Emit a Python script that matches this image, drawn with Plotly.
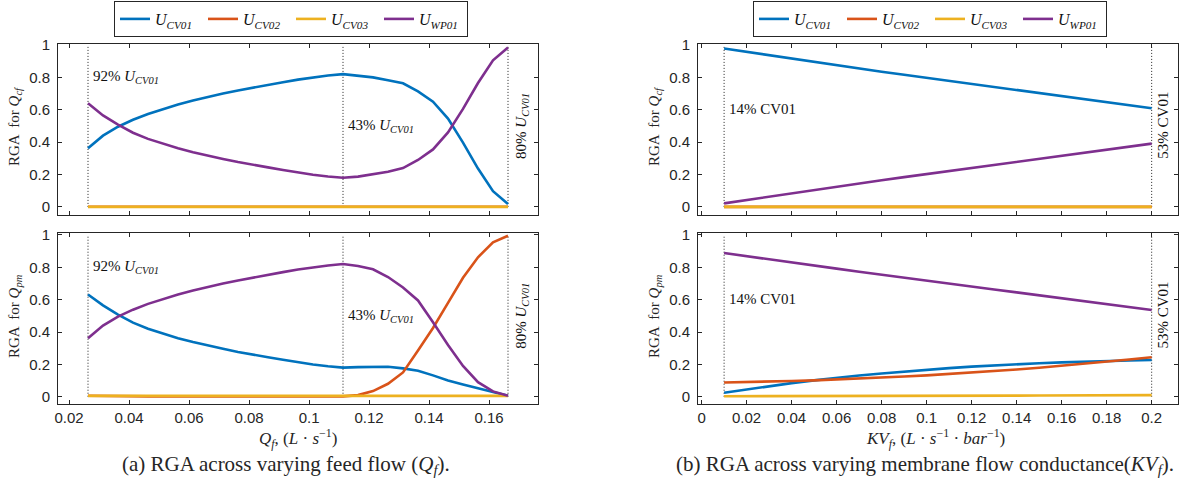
import plotly.graph_objects as go

# ---------------- data ----------------
qf = [0.0263, 0.0313, 0.0363, 0.0413, 0.0463, 0.0513, 0.0563, 0.0613, 0.0663, 0.0713,
      0.0763, 0.0813, 0.0863, 0.0913, 0.0963, 0.1013, 0.1063, 0.1113, 0.1163, 0.1213,
      0.1263, 0.1313, 0.1363, 0.1413, 0.1463, 0.1513, 0.1563, 0.1613, 0.1663]

a_cf_cv01 = [0.362, 0.440, 0.495, 0.538, 0.574, 0.605, 0.632, 0.657, 0.680, 0.700,
             0.719, 0.737, 0.753, 0.770, 0.786, 0.800, 0.811, 0.820, 0.812, 0.800,
             0.782, 0.763, 0.713, 0.650, 0.545, 0.397, 0.237, 0.097, 0.018]
a_cf_cv02 = [0.001] * 29
a_cf_cv03 = [0.0] * 29
a_cf_wp01 = [0.640, 0.565, 0.508, 0.458, 0.420, 0.390, 0.362, 0.338, 0.316, 0.296,
             0.277, 0.259, 0.244, 0.228, 0.213, 0.199, 0.188, 0.180, 0.187, 0.200,
             0.217, 0.240, 0.290, 0.355, 0.460, 0.605, 0.765, 0.905, 0.985]

a_pm_cv01 = [0.632, 0.565, 0.508, 0.458, 0.420, 0.390, 0.362, 0.338, 0.316, 0.296,
             0.277, 0.259, 0.244, 0.228, 0.213, 0.199, 0.188, 0.180, 0.183, 0.186,
             0.185, 0.175, 0.160, 0.132, 0.100, 0.075, 0.052, 0.028, 0.006]
a_pm_cv02 = [0.006, 0.004, 0.003, 0.002, 0.002, 0.002, 0.002, 0.002, 0.002, 0.002,
             0.002, 0.002, 0.002, 0.002, 0.002, 0.002, 0.002, 0.002, 0.010, 0.035,
             0.080, 0.150, 0.285, 0.425, 0.580, 0.735, 0.862, 0.955, 0.995]
a_pm_cv03 = [0.005] * 29
a_pm_wp01 = [0.362, 0.440, 0.495, 0.538, 0.574, 0.605, 0.632, 0.657, 0.680, 0.700,
             0.719, 0.737, 0.753, 0.770, 0.786, 0.800, 0.811, 0.820, 0.808, 0.788,
             0.740, 0.675, 0.595, 0.460, 0.320, 0.190, 0.090, 0.033, 0.006]

kv = [0.01, 0.02, 0.03, 0.04, 0.05, 0.06, 0.07, 0.08, 0.09, 0.10,
      0.11, 0.12, 0.13, 0.14, 0.15, 0.16, 0.17, 0.18, 0.19, 0.20]

b_cf_cv01 = [0.978, 0.957, 0.936, 0.915, 0.895, 0.875, 0.855, 0.835, 0.816, 0.797,
             0.778, 0.759, 0.740, 0.721, 0.702, 0.683, 0.664, 0.646, 0.627, 0.609]
b_cf_cv02 = [0.0] * 20
b_cf_cv03 = [0.0] * 20
b_cf_wp01 = [0.022, 0.043, 0.064, 0.085, 0.105, 0.125, 0.145, 0.165, 0.184, 0.203,
             0.222, 0.241, 0.260, 0.279, 0.298, 0.317, 0.336, 0.354, 0.373, 0.391]

b_pm_cv01 = [0.025, 0.046, 0.066, 0.084, 0.101, 0.117, 0.131, 0.144, 0.156, 0.167,
             0.177, 0.186, 0.194, 0.201, 0.207, 0.212, 0.217, 0.221, 0.224, 0.227]
b_pm_cv02 = [0.088, 0.090, 0.093, 0.097, 0.101, 0.106, 0.112, 0.118, 0.125, 0.132,
             0.140, 0.149, 0.158, 0.168, 0.179, 0.191, 0.203, 0.216, 0.230, 0.244]
b_pm_cv03 = [0.003, 0.003, 0.004, 0.004, 0.004, 0.005, 0.005, 0.005, 0.006, 0.006,
             0.006, 0.007, 0.007, 0.007, 0.008, 0.008, 0.008, 0.009, 0.009, 0.010]
b_pm_wp01 = [0.888, 0.868, 0.849, 0.830, 0.811, 0.792, 0.773, 0.754, 0.736, 0.717,
             0.699, 0.681, 0.663, 0.645, 0.627, 0.609, 0.590, 0.572, 0.554, 0.536]

series_names = ["<i>U<sub>CV01</sub></i>", "<i>U<sub>CV02</sub></i>",
                "<i>U<sub>CV03</sub></i>", "<i>U<sub>WP01</sub></i>"]
colors = ["#0072BD", "#D95319", "#EDB120", "#7E2F8E"]

y_ticks = [0, 0.2, 0.4, 0.6, 0.8, 1]
y_ticktext = ["0", "0.2", "0.4", "0.6", "0.8", "1"]
qf_ticks = [0.02, 0.04, 0.06, 0.08, 0.1, 0.12, 0.14, 0.16]
qf_ticktext = ["0.02", "0.04", "0.06", "0.08", "0.1", "0.12", "0.14", "0.16"]
kv_ticks = [0, 0.02, 0.04, 0.06, 0.08, 0.1, 0.12, 0.14, 0.16, 0.18, 0.2]
kv_ticktext = ["0", "0.02", "0.04", "0.06", "0.08", "0.1", "0.12", "0.14", "0.16", "0.18", "0.2"]

SERIF = "Liberation Serif, Times New Roman, serif"
SANS = "Liberation Sans, Arial, sans-serif"
AX = "#262626"

fig = go.Figure()

panels = [
    ("x", "y", qf, [a_cf_cv01, a_cf_cv02, a_cf_cv03, a_cf_wp01], "legend", True),
    ("x2", "y2", qf, [a_pm_cv01, a_pm_cv02, a_pm_cv03, a_pm_wp01], "legend", False),
    ("x3", "y3", kv, [b_cf_cv01, b_cf_cv02, b_cf_cv03, b_cf_wp01], "legend2", True),
    ("x4", "y4", kv, [b_pm_cv01, b_pm_cv02, b_pm_cv03, b_pm_wp01], "legend2", False),
]
for xa, ya, xs, ys_list, leg, show in panels:
    for name, col, ys in zip(series_names, colors, ys_list):
        fig.add_trace(go.Scatter(x=xs, y=ys, mode="lines", name=name,
                                 line=dict(color=col, width=2.6),
                                 xaxis=xa, yaxis=ya, legend=leg, showlegend=show,
                                 hoverinfo="skip"))

# dotted reference lines
vlines = [("x", "y", [qf[0], qf[17], qf[-1]]), ("x2", "y2", [qf[0], qf[17], qf[-1]]),
          ("x3", "y3", [kv[0], kv[-1]]), ("x4", "y4", [kv[0], kv[-1]])]
for xa, ya, xs in vlines:
    for xv in xs:
        fig.add_shape(type="line", xref=xa, yref=ya, x0=xv, x1=xv, y0=0, y1=1,
                      line=dict(color="#222222", width=1, dash="1px,2px"), layer="below")

# annotations in plots
ann = []
def txt(xa, ya, x, y, text, angle=0, xanchor="left", xshift=0):
    ann.append(dict(xref=xa, yref=ya, x=x, y=y, text=text, showarrow=False,
                    textangle=angle, xanchor=xanchor, yanchor="middle", xshift=xshift,
                    font=dict(family=SERIF, size=15, color="#111111")))

for xa, ya in [("x", "y"), ("x2", "y2")]:
    txt(xa, ya, qf[0], 0.80, "92% <i>U<sub>CV01</sub></i>", xshift=3)
    txt(xa, ya, qf[17], 0.50, "43% <i>U<sub>CV01</sub></i>", xshift=3)
    txt(xa, ya, qf[-1], 0.50, "80% <i>U<sub>CV01</sub></i>", angle=-90, xanchor="left", xshift=3)
for xa, ya in [("x3", "y3"), ("x4", "y4")]:
    txt(xa, ya, kv[0], 0.605, "14% CV01", xshift=3)
    txt(xa, ya, kv[-1], 0.506, "53% CV01", angle=-90, xanchor="left", xshift=1)

# axis titles & captions
W, H = 1187, 501
def paper(px, py, text, size, angle=0):
    ann.append(dict(xref="paper", yref="paper", x=px / W, y=1 - py / H, text=text,
                    showarrow=False, textangle=angle, xanchor="center", yanchor="middle",
                    font=dict(family=SERIF, size=size, color="#262626")))

paper(15, 126, "RGA  for <i>Q<sub>cf</sub></i>", 15, -90)
paper(15, 316, "RGA  for <i>Q<sub>pm</sub></i>", 15, -90)
paper(655, 126, "RGA  for <i>Q<sub>cf</sub></i>", 15, -90)
paper(655, 316, "RGA  for <i>Q<sub>pm</sub></i>", 15, -90)
paper(298, 438, "<i>Q<sub>f</sub></i>, (<i>L</i> · <i>s</i><sup>−1</sup>)", 17)
paper(935, 438, "<i>KV<sub>f</sub></i>, (<i>L</i> · <i>s</i><sup>−1</sup> · <i>bar</i><sup>−1</sup>)", 17)
paper(286, 465, "(a) RGA across varying feed flow (<i>Q<sub>f</sub></i>).", 21)
paper(925, 465, "(b) RGA across varying membrane flow conductance(<i>KV<sub>f</sub></i>).", 21)

def xax(domain, rng, tv, tt, labels, anchor):
    return dict(domain=domain, range=rng, tickvals=tv, ticktext=tt, showticklabels=labels,
                ticks="inside", ticklen=4, tickcolor=AX, tickwidth=1, showline=True,
                linecolor=AX, linewidth=1, mirror="ticks", showgrid=False, zeroline=False,
                anchor=anchor, automargin=False,
                tickfont=dict(family=SANS, size=15, color=AX))

def yax(domain, rng, anchor):
    return dict(domain=domain, range=rng, tickvals=y_ticks, ticktext=y_ticktext,
                ticks="inside", ticklen=4, tickcolor=AX, tickwidth=1, showline=True,
                linecolor=AX, linewidth=1, mirror="ticks", showgrid=False, zeroline=False,
                anchor=anchor, automargin=False,
                tickfont=dict(family=SANS, size=15, color=AX), ticklabelstandoff=4)

dl = [58 / W, 538 / W]
dr = [698 / W, 1178 / W]
dt = [1 - 215 / H, 1 - 44 / H]
db = [1 - 404 / H, 1 - 233 / H]
rq = [0.0163, 0.1763]
rk = [-0.0016, 0.2117]
ryt = [-0.05, 1.006]
ryb = [-0.045, 1.012]

legend_common = dict(orientation="h", xanchor="center", yanchor="middle",
                     bordercolor="#262626", borderwidth=1, bgcolor="white",
                     font=dict(family=SERIF, size=16, color="#111111"),
                     entrywidth=43, entrywidthmode="pixels", itemwidth=30,
                     tracegroupgap=0)

fig.update_layout(
    template="none",
    width=W, height=H, margin=dict(l=0, r=0, t=0, b=0, autoexpand=False),
    paper_bgcolor="white", plot_bgcolor="white",
    xaxis=xax(dl, rq, qf_ticks, qf_ticktext, False, "y"),
    xaxis2=xax(dl, rq, qf_ticks, qf_ticktext, True, "y2"),
    xaxis3=xax(dr, rk, kv_ticks, kv_ticktext, False, "y3"),
    xaxis4=xax(dr, rk, kv_ticks, kv_ticktext, True, "y4"),
    yaxis=yax(dt, ryt, "x"),
    yaxis2=yax(db, ryb, "x2"),
    yaxis3=yax(dt, ryt, "x3"),
    yaxis4=yax(db, ryb, "x4"),
    legend=dict(x=291 / W, y=1 - 19 / H, **legend_common),
    legend2=dict(x=930 / W, y=1 - 19 / H, **legend_common),
    annotations=ann,
)

fig.write_html("out.html", config={"displayModeBar": False},
               post_script="document.body.style.margin='0';document.body.style.padding='0';")
